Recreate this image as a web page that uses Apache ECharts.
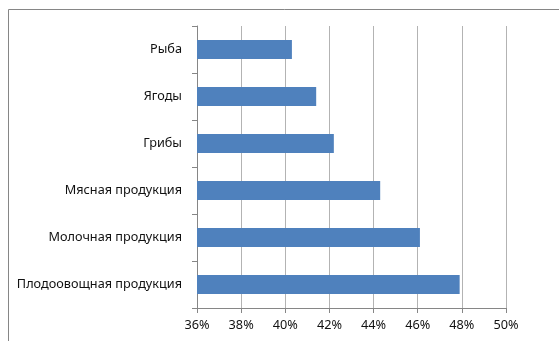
<!DOCTYPE html>
<html><head><meta charset="utf-8">
<script src="https://cdn.jsdelivr.net/npm/echarts@6/dist/echarts.min.js"></script>
<style>html,body{margin:0;padding:0;background:#fff}#c{width:559px;height:341px}</style>
</head><body><div id="c"></div>
<script>
const categories = ['Плодоовощная продукция','Молочная продукция','Мясная продукция','Грибы','Ягоды','Рыба'];
const values = [47.9, 46.1, 44.3, 42.2, 41.4, 40.3];
const xMin = 36, xMax = 50, xStep = 2;

const chart = echarts.init(document.getElementById('c'), null, {renderer:'canvas'});
chart.setOption({
  animation:false,
  backgroundColor:'#fff',
  graphic:[{type:'rect', shape:{x:8.5,y:9.5,width:600,height:400}, style:{fill:'none',stroke:'#868686',lineWidth:1}, silent:true}],
  grid:{left:197, right:53, top:26, bottom:33, containLabel:false},
  xAxis:{type:'value', min:xMin, max:xMax, interval:xStep,
    axisLine:{show:true, lineStyle:{color:'#868686'}},
    axisTick:{show:true, length:5, lineStyle:{color:'#868686'}},
    splitLine:{show:true, lineStyle:{color:'#b3b3b3'}},
    axisLabel:{formatter:v=>v+'%', color:'#111', fontFamily:'Noto Sans', fontSize:12.7, margin:11}
  },
  yAxis:{type:'category', data:categories,
    axisLine:{show:true, lineStyle:{color:'#868686'}},
    axisTick:{show:true, length:5, lineStyle:{color:'#868686'}},
    axisLabel:{color:'#111', fontFamily:'Noto Sans', fontSize:12.7, margin:15}
  },
  series:[{type:'bar', data:values, barWidth:19, itemStyle:{color:'#4F81BD'}}]
});
</script></body></html>
